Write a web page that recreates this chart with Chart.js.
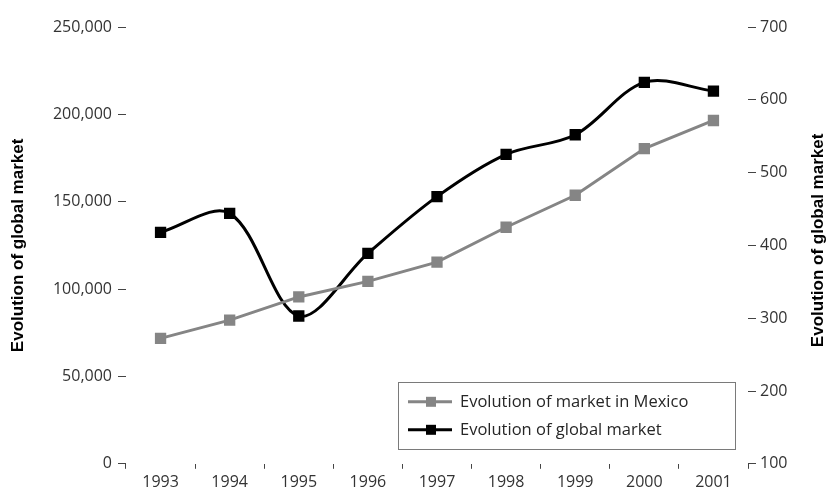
<!doctype html>
<html>
<head>
	<title>Evolution of market</title>
	<script src="https://cdn.jsdelivr.net/npm/chart.js"></script>
	<style>
		html, body { margin: 0; padding: 0; background: #fff; }
		#holder { width: 828px; height: 496px; }
	</style>
</head>
<body>
	<div id="holder">
		<canvas id="chart-area"></canvas>
	</div>
	<script>
		var years = ['1993', '1994', '1995', '1996', '1997', '1998', '1999', '2000', '2001'];
		// left axis values
		var mexicoMarket = [71800, 82200, 95500, 104400, 115400, 135400, 153700, 180400, 196500];
		// right axis values
		var globalMarket = [418, 444, 303, 389, 467, 525, 552, 624, 612];
		var seriesNames = ['Evolution of market in Mexico', 'Evolution of global market'];
		var axisTitle = 'Evolution of global market';

		var tickFont = { family: 'Open Sans', size: 16 };
		var titleFont = { family: 'Liberation Sans', size: 17, weight: 'bold' };

		// legend box inside the plot (bottom right) + right axis title reading upwards
		var boxLegend = {
			id: 'boxLegend',
			afterDraw: function (chart) {
				var ctx = chart.ctx;
				var area = chart.chartArea;
				var w = 337, h = 67;
				var x = area.right - 13 - w;
				var y = area.bottom - 15 - h;
				ctx.save();
				ctx.strokeStyle = '#7a7a7a';
				ctx.lineWidth = 1;
				ctx.strokeRect(Math.round(x) + 0.5, Math.round(y) + 0.5, w, h);
				ctx.font = '16.5px "Open Sans"';
				ctx.textBaseline = 'middle';
				chart.data.datasets.forEach(function (ds, i) {
					var cy = y + 20 + i * 28;
					ctx.strokeStyle = ds.borderColor;
					ctx.lineWidth = 3;
					ctx.beginPath();
					ctx.moveTo(x + 10, cy);
					ctx.lineTo(x + 54, cy);
					ctx.stroke();
					ctx.fillStyle = ds.backgroundColor;
					ctx.fillRect(x + 28, cy - 5, 10, 10);
					ctx.fillStyle = '#262626';
					ctx.fillText(ds.label, x + 62, cy);
				});

				ctx.translate(chart.width - 10, (area.top + area.bottom) / 2 - 5);
				ctx.rotate(-Math.PI / 2);
				ctx.font = 'bold 17px "Liberation Sans"';
				ctx.fillStyle = '#000';
				ctx.textAlign = 'center';
				ctx.fillText(axisTitle, 0, 0);
				ctx.restore();
			}
		};

		var config = {
			type: 'line',
			data: {
				labels: years,
				datasets: [{
					label: seriesNames[0],
					data: mexicoMarket,
					yAxisID: 'y',
					borderColor: '#858585',
					backgroundColor: '#858585',
					borderWidth: 3,
					pointStyle: 'rect',
					pointRadius: 8,
					pointBorderWidth: 0,
					tension: 0
				}, {
					label: seriesNames[1],
					data: globalMarket,
					yAxisID: 'y1',
					borderColor: '#000000',
					backgroundColor: '#000000',
					borderWidth: 3,
					pointStyle: 'rect',
					pointRadius: 8,
					pointBorderWidth: 0,
					tension: 0.33
				}]
			},
			options: {
				responsive: true,
				maintainAspectRatio: false,
				animation: false,
				layout: { padding: { top: 27, left: 4, right: 0, bottom: 0 } },
				plugins: {
					legend: { display: false },
					tooltip: { enabled: false }
				},
				scales: {
					x: {
						type: 'category',
						offset: true,
						border: { display: false },
						grid: { offset: true, drawOnChartArea: false, tickLength: 5, color: '#444' },
						ticks: { font: tickFont, color: '#333', padding: 4, maxRotation: 0, autoSkip: false }
					},
					y: {
						position: 'left',
						min: 0,
						max: 250000,
						border: { display: false },
						grid: { drawOnChartArea: false, tickLength: 8, color: '#444' },
						ticks: {
							stepSize: 50000,
							font: tickFont,
							color: '#333',
							padding: 6,
							callback: function (v) { return v.toLocaleString('en-US'); }
						},
						title: { display: true, text: axisTitle, font: titleFont, color: '#000', padding: { top: 4, bottom: 4 } },
						afterFit: function (scale) { scale.width = 122; }
					},
					y1: {
						position: 'right',
						min: 100,
						max: 700,
						border: { display: false },
						grid: { drawOnChartArea: false, tickLength: 8, color: '#444' },
						ticks: { stepSize: 100, font: tickFont, color: '#333', padding: 4 },
						afterFit: function (scale) { scale.width = 80; }
					}
				}
			},
			plugins: [boxLegend]
		};

		window.onload = function () {
			var ctx = document.getElementById('chart-area').getContext('2d');
			window.myLine = new Chart(ctx, config);
		};
	</script>
</body>
</html>
